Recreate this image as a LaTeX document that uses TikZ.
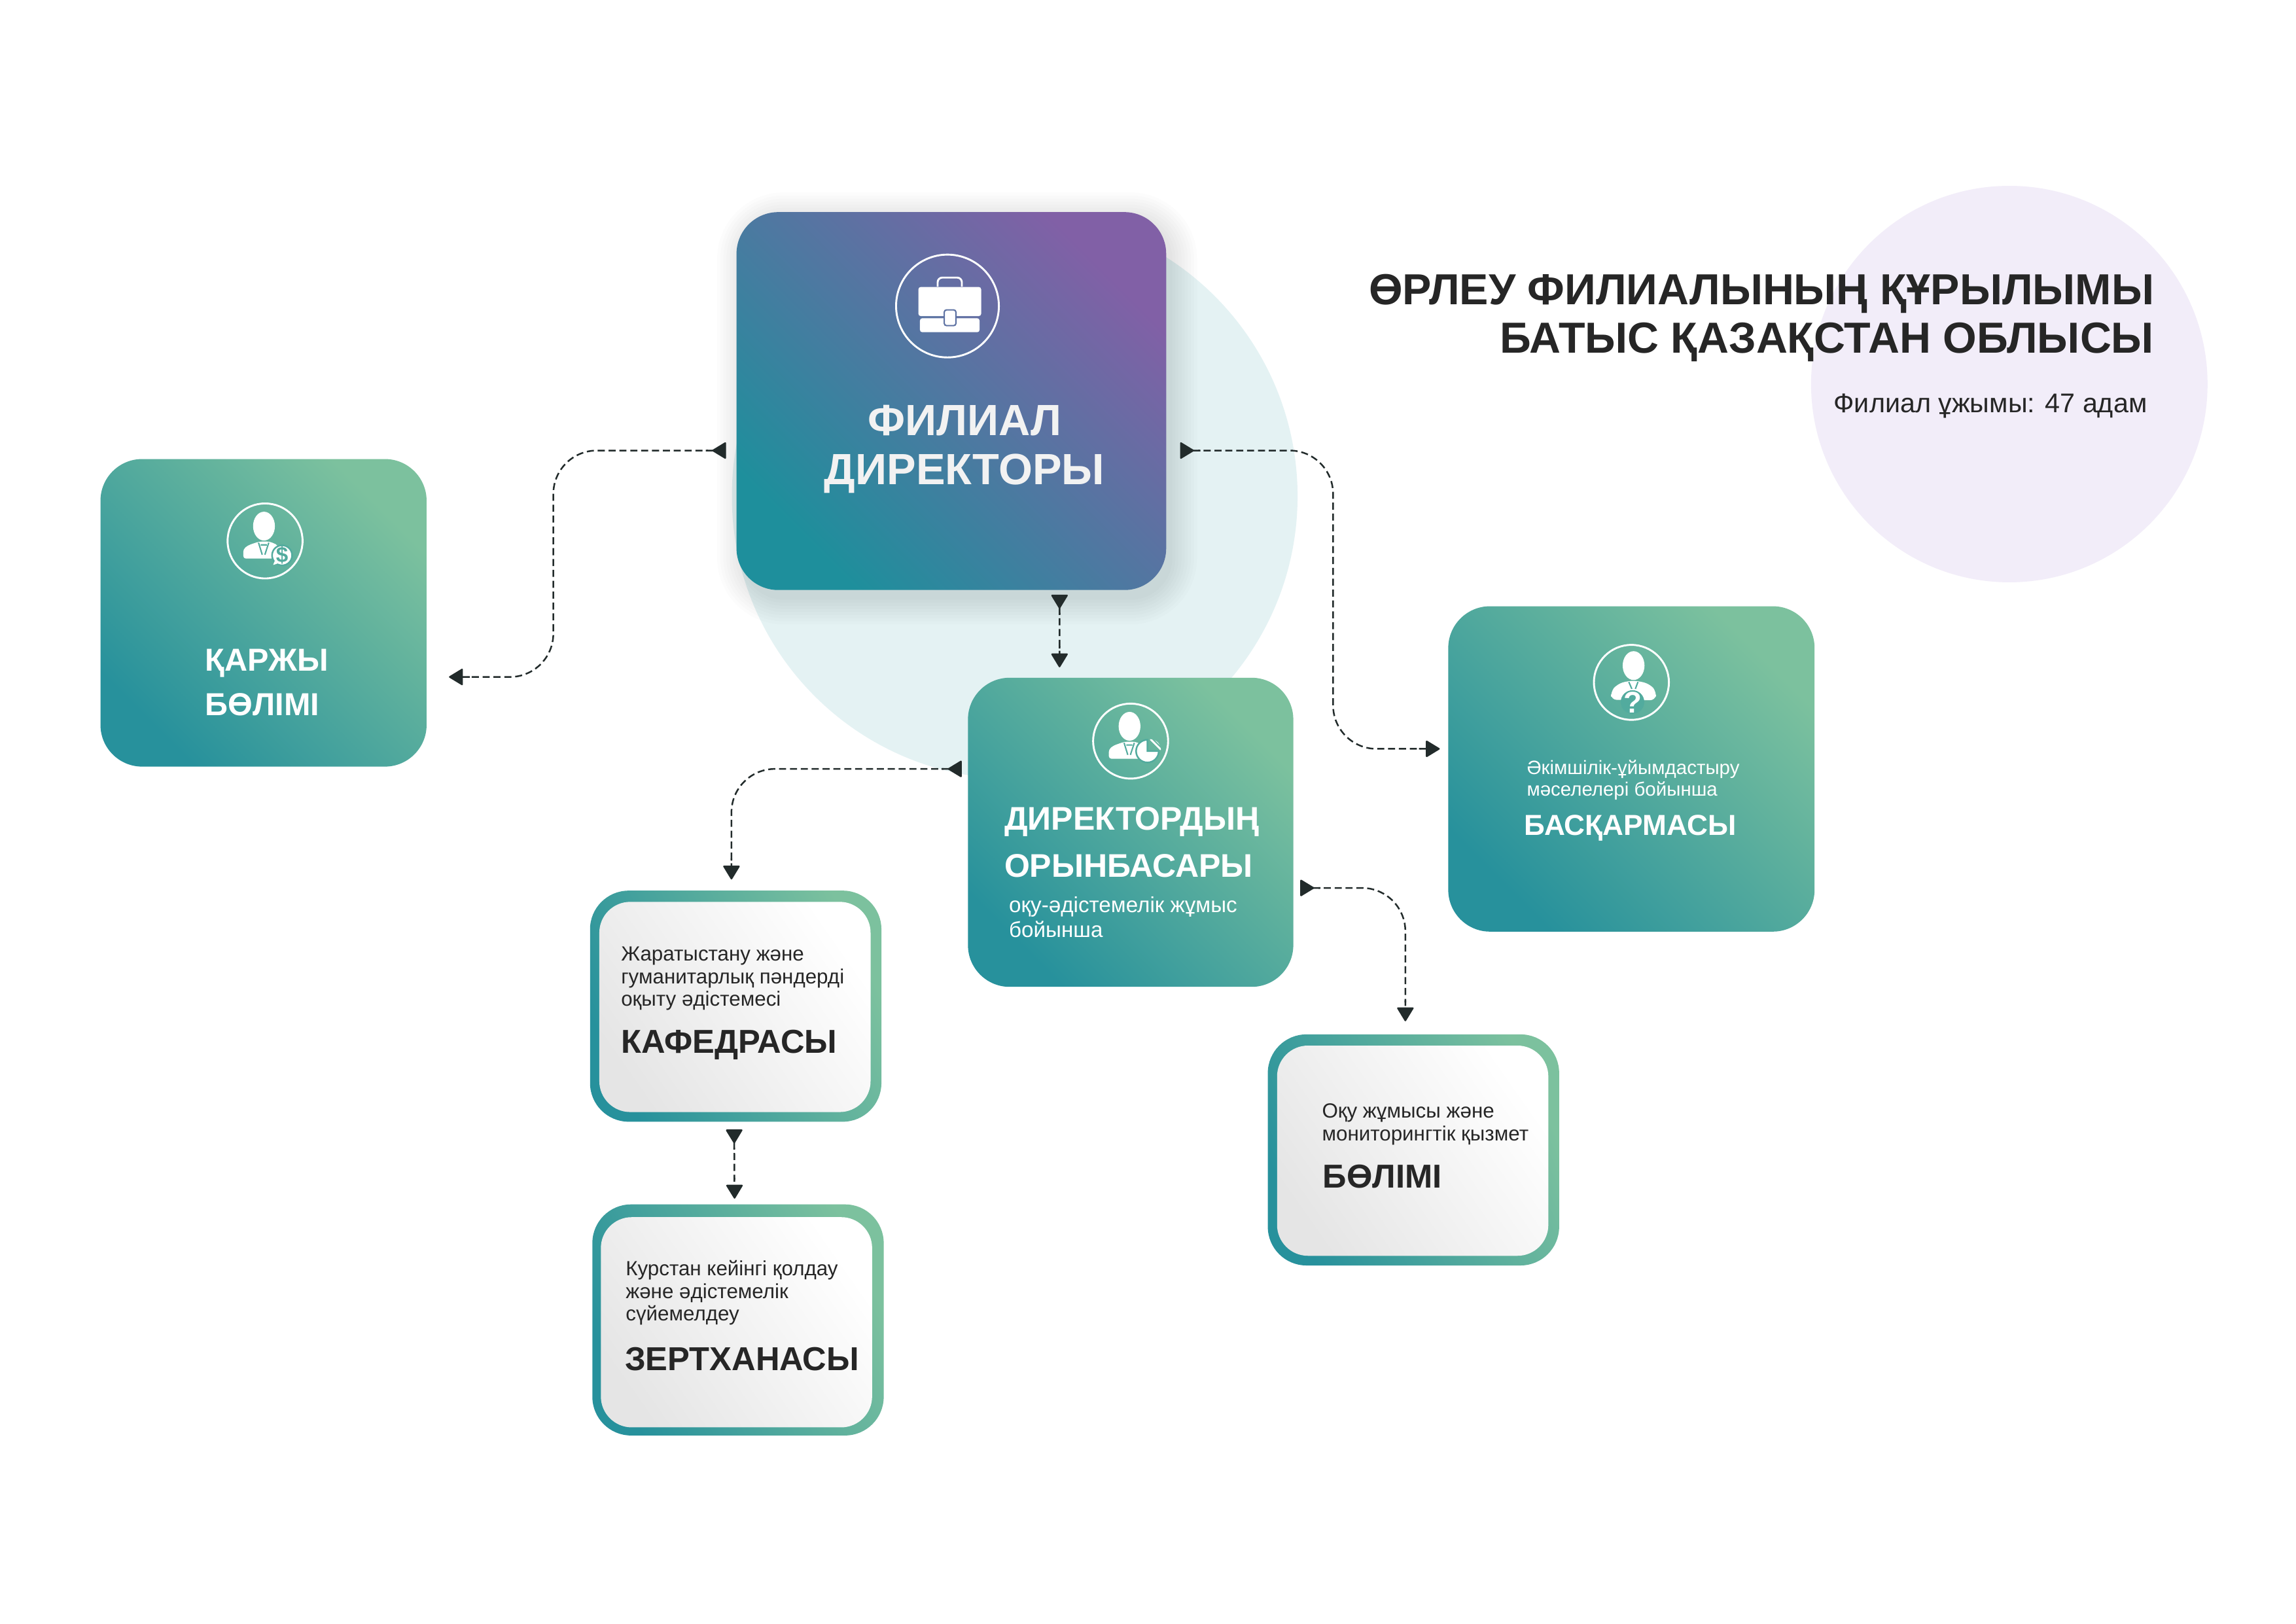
\documentclass[tikz,border=0pt]{standalone}
\usepackage{fontspec}
\setmainfont{Liberation Sans}
\usetikzlibrary{positioning,arrows.meta}

\definecolor{tealdark}{HTML}{27919C}
\definecolor{tealgreen}{HTML}{7CC19E}
\definecolor{mainteal}{HTML}{1E8F9C}
\definecolor{mainpurple}{HTML}{8160A6}
\definecolor{inkdark}{HTML}{262626}
\definecolor{linedark}{HTML}{222B2B}
\definecolor{iconbg}{HTML}{52AB9E}
\definecolor{casebg}{HTML}{5E72A3}
\definecolor{paleteal}{HTML}{E4F2F3}
\definecolor{palepurple}{HTML}{F2EDF9}

\tikzset{
  mainbox/.style={rectangle,inner sep=0pt,outer sep=0pt,rounded corners=.54cm,left color=mainteal,right color=mainpurple,shading angle=135,minimum width=5.56cm,minimum height=4.89cm},
  tealbox/.style={rectangle,inner sep=0pt,outer sep=0pt,rounded corners=.54cm,left color=tealdark,right color=tealgreen,shading angle=135},
  ringbox/.style={rectangle,inner sep=0pt,outer sep=0pt,rounded corners=.5cm,left color=tealdark,right color=tealgreen,shading angle=115,minimum width=3.77cm,minimum height=2.99cm},
  innerbox/.style={rectangle,inner sep=0pt,outer sep=0pt,rounded corners=.4cm,left color=black!10,right color=white,shading angle=125,minimum width=3.51cm,minimum height=2.72cm},
  iconring/.style={circle,draw=white,line width=.7pt,inner sep=0pt,minimum size=.97cm},
  link/.style={draw=linedark,fill=none,line width=.6pt,dash pattern=on 2.6pt off 1.4pt,rounded corners=16pt,
    arrows={Triangle[reversed,length=5.4pt,width=6.4pt,round,fill=linedark]Butt Cap[sep=1.6pt]-Butt Cap[sep=1.8pt]Triangle[length=5.4pt,width=6.4pt,round,fill=linedark]}},
  sub/.style={anchor=base west,align=left,inner sep=0pt,text=inkdark,font=\fontsize{7.55}{8.3}\selectfont},
  head/.style={anchor=base west,align=left,inner sep=0pt,text=inkdark,font=\fontsize{12.2}{14}\selectfont\bfseries},
  whitesub/.style={sub,text=white},
  whitehead/.style={head,text=white,font=\fontsize{12.05}{17.3}\selectfont\bfseries},
  iconscale/.style={x=.00282cm,y=.00282cm}
}

% man in a suit, drawn round an icon ring
\newcommand{\manicon}[1]{
\begin{scope}[shift={(#1)},iconscale]
\fill[white] (-5,68) ellipse [x radius=50,y radius=66];
\fill[white,rounded corners=1pt] (-100,-81)--(-100,-38)--(-78,-20)--(-28,-3)--(22,-3)--(60,-20)--(60,-81)--cycle;
\draw[iconbg,line width=.5pt] (-30,-8)--(-13,-63) (17,-8)--(-1,-63) (-20,-18)--(8,-18);
\end{scope}
}

\begin{document}
\begin{tikzpicture}
\useasboundingbox (0,0) rectangle (29.71,21.01);

\fill[white] (0,0) rectangle (29.71,21.01);
\fill[paleteal] (13.13,14.59) circle (3.66);
\fill[palepurple] (26.00,16.04) circle (2.565);

% shadow of the director box
\foreach \s in {0,.04,...,.32}
  \fill[black,opacity=.011,rounded corners={(.54+\s)*1cm}] (9.6-\s,13.25-\s) rectangle (15.17+\s,18.2+\s);

\node[mainbox] (director) at (12.31,15.82) {};
\node[tealbox,minimum width=4.22cm,minimum height=3.98cm] (finance) at (3.41,13.08) {};
\node[tealbox,minimum width=4.21cm,minimum height=4.00cm] (deputy) at (14.63,10.24) {};
\node[tealbox,minimum width=4.74cm,minimum height=4.21cm] (admin) at (21.11,11.06) {};

\node[ringbox] (kafedra) at (9.52,7.99) {};
\node[innerbox] (kafedrain) at (9.51,7.98) {};
\node[ringbox] (lab) at (9.55,3.93) {};
\node[innerbox] (labin) at (9.53,3.90) {};
\node[ringbox] (monitoring) at (18.29,6.13) {};
\node[innerbox] (monitoringin) at (18.28,6.12) {};

% connectors
\coordinate (bendf) at (7.16,13.5);
\coordinate (benda) at (17.25,13);
\draw[link] ([shift={(-.135,-.64)}]director.west) -| (bendf) |- ([shift={(.29,-.83)}]finance.east);
\draw[link] ([shift={(.18,-.64)}]director.east) -| (benda) |- ([shift={(-.11,.26)}]admin.west);
\draw[link] ([shift={(1.40,-.06)}]director.south) -- ([shift={(-.92,.135)}]deputy.north);
\draw[link] ([shift={(-.08,.82)}]deputy.west) -| ([shift={(-.055,.145)}]kafedra.north);
\draw[link] ([shift={(.09,-.72)}]deputy.east) -| ([shift={(-.105,.17)}]monitoring.north);
\draw[link] ([shift={(-.02,-.10)}]kafedra.south) -- ([shift={(-.045,.075)}]lab.north);

% icons
\node[iconring,minimum size=1.33cm] (icondirector) at (12.26,17.05) {};
\node[iconring] (iconfinance) at (3.43,14.01) {};
\node[iconring] (icondeputy) at (14.63,11.42) {};
\node[iconring] (iconadmin) at (21.11,12.18) {};

\begin{scope}[shift={(icondirector)}]
\draw[white,line width=.7pt,rounded corners=.06cm] (-.127,.25)--(-.127,.368)--(.186,.368)--(.186,.25);
\fill[white,rounded corners=.03cm] (-.376,-.13) rectangle (.436,.246);
\fill[white,rounded corners=.03cm] (-.356,-.339) rectangle (.415,-.158);
\filldraw[fill=white,draw=casebg,line width=.5pt,rounded corners=.03cm] (-.042,-.254) rectangle (.11,-.05);
\end{scope}

\manicon{iconfinance}
\begin{scope}[shift={(iconfinance)},iconscale]
\filldraw[fill=white,draw=iconbg,line width=.6pt] (78,-66) circle (46);
\fill[white] (44,-92)--(37,-110)--(62,-102)--cycle;
\node[text=iconbg,font=\fontsize{8}{8}\selectfont\bfseries,inner sep=0pt] (dollar) at (78,-66) {\$};
\end{scope}

\manicon{icondeputy}
\begin{scope}[shift={(icondeputy)},iconscale]
\filldraw[fill=white,draw=iconbg,line width=.6pt] (77,-46)--(77,6) arc (90:360:52)--cycle;
\begin{scope}
\clip (89,-41)--(139,-41) arc (0:90:50)--cycle;
\foreach \d in {0,22,...,110}
  \draw[white,line width=.7pt] (80+\d,20)--(140+\d,-40);
\end{scope}
\end{scope}

\begin{scope}[shift={(iconadmin)},iconscale]
\fill[white] (10,77) ellipse [x radius=50,y radius=66];
\fill[white,rounded corners=2pt] (-92,-80)--(-95,-43)--(-65,-8)--(-15,7)--(30,7)--(85,-8)--(115,-43)--(110,-82)--cycle;
\draw[iconbg,line width=.5pt] (-12,2)--(2,-30) (30,2)--(18,-30);
\fill[iconbg] (5,-90) circle (54);
\node[text=white,font=\fontsize{11}{11}\selectfont\bfseries,inner sep=0pt] (question) at (7,-93) {?};
\end{scope}

% texts
\node[anchor=base east,align=right,inner sep=0pt,text=inkdark,font=\fontsize{16}{17.8}\selectfont\bfseries] (title) at (27.88,16.44) {ӨРЛЕУ ФИЛИАЛЫНЫҢ ҚҰРЫЛЫМЫ\\БАТЫС ҚАЗАҚСТАН ОБЛЫСЫ};
\node[anchor=base east,inner sep=0pt,text=inkdark,font=\fontsize{9.95}{11}\selectfont] (staff) at (27.79,15.67) {Филиал ұжымы: 47 адам};

\node[anchor=base,align=center,inner sep=0pt,text=black!5,font=\fontsize{16.1}{18}\selectfont\bfseries] (directortext) at (12.48,14.74) {ФИЛИАЛ\\ДИРЕКТОРЫ};
\node[whitehead,font=\fontsize{11.7}{16.4}\selectfont\bfseries] (financetext) at (2.65,11.75) {ҚАРЖЫ\\БӨЛІМІ};
\node[whitehead] (deputytext) at (12.99,9.66) {ДИРЕКТОРДЫҢ\\ОРЫНБАСАРЫ};
\node[whitesub,font=\fontsize{8}{9.15}\selectfont] (deputysub) at (13.05,8.88) {оқу-әдістемелік жұмыс\\бойынша};
\node[whitesub,font=\fontsize{7.1}{8}\selectfont] (adminsub) at (19.75,10.71) {Әкімшілік-ұйымдастыру\\мәселелері бойынша};
\node[whitehead,font=\fontsize{10.65}{12}\selectfont\bfseries] (admintext) at (19.72,10.20) {БАСҚАРМАСЫ};

\node[sub] (kafedrasub) at (8.03,7.99) {Жаратыстану және\\гуманитарлық пәндерді\\оқыту әдістемесі};
\node[head] (kafedratext) at (8.03,7.38) {КАФЕДРАСЫ};
\node[sub] (labsub) at (8.09,3.92) {Курстан кейінгі қолдау\\және әдістемелік\\сүйемелдеу};
\node[head] (labtext) at (8.08,3.28) {ЗЕРТХАНАСЫ};
\node[sub] (monitoringsub) at (17.10,6.25) {Оқу жұмысы және\\мониторингтік қызмет};
\node[head] (monitoringtext) at (17.11,5.64) {БӨЛІМІ};
\end{tikzpicture}
\end{document}
